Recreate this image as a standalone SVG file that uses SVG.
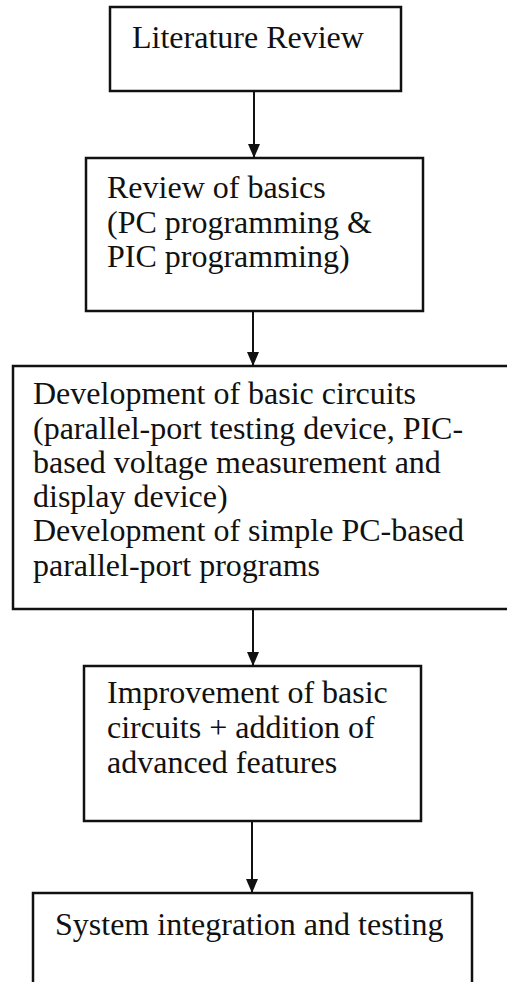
<svg xmlns="http://www.w3.org/2000/svg" width="507" height="982" viewBox="0 0 507 982">
<style>
.box{fill:#fff;stroke:#111;stroke-width:2.5}
.t{font-family:"Liberation Serif","Times New Roman",serif;font-size:32px;fill:#111}
.c{stroke:#111;stroke-width:2;fill:none}
</style>
<defs>
<marker id="ah" markerWidth="14" markerHeight="12" refX="14" refY="6" orient="auto" markerUnits="userSpaceOnUse" viewBox="0 0 14 12">
<path d="M0,0 L14,6 L0,12 Z" fill="#111"/>
</marker>
</defs>
<rect width="507" height="982" fill="#fff"/>
<g id="connectors">
<line class="c" x1="254" y1="91" x2="254" y2="158" marker-end="url(#ah)"/>
<line class="c" x1="253" y1="311" x2="253" y2="366" marker-end="url(#ah)"/>
<line class="c" x1="253" y1="609" x2="253" y2="666" marker-end="url(#ah)"/>
<line class="c" x1="252" y1="821" x2="252" y2="893" marker-end="url(#ah)"/>
</g>
<g id="n1">
<rect class="box" x="110" y="7" width="291" height="84"/>
<text class="t" x="132" y="48">Literature Review</text>
</g>
<g id="n2">
<rect class="box" x="86" y="158" width="337" height="153"/>
<text class="t" x="107" y="198">Review of basics</text>
<text class="t" x="107" y="233">(PC programming &amp;</text>
<text class="t" x="107" y="267">PIC programming)</text>
</g>
<g id="n3">
<rect class="box" x="13" y="366" width="497" height="243"/>
<text class="t" x="33" y="404">Development of basic circuits</text>
<text class="t" x="33" y="439">(parallel-port testing device, PIC-</text>
<text class="t" x="33" y="473">based voltage measurement and</text>
<text class="t" x="33" y="507">display device)</text>
<text class="t" x="33" y="541">Development of simple PC-based</text>
<text class="t" x="33" y="576">parallel-port programs</text>
</g>
<g id="n4">
<rect class="box" x="84" y="666" width="337" height="155"/>
<text class="t" x="107" y="703">Improvement of basic</text>
<text class="t" x="107" y="738">circuits + addition of</text>
<text class="t" x="107" y="773">advanced features</text>
</g>
<g id="n5">
<rect class="box" x="33" y="893" width="439" height="100"/>
<text class="t" x="55" y="935">System integration and testing</text>
</g>
</svg>
